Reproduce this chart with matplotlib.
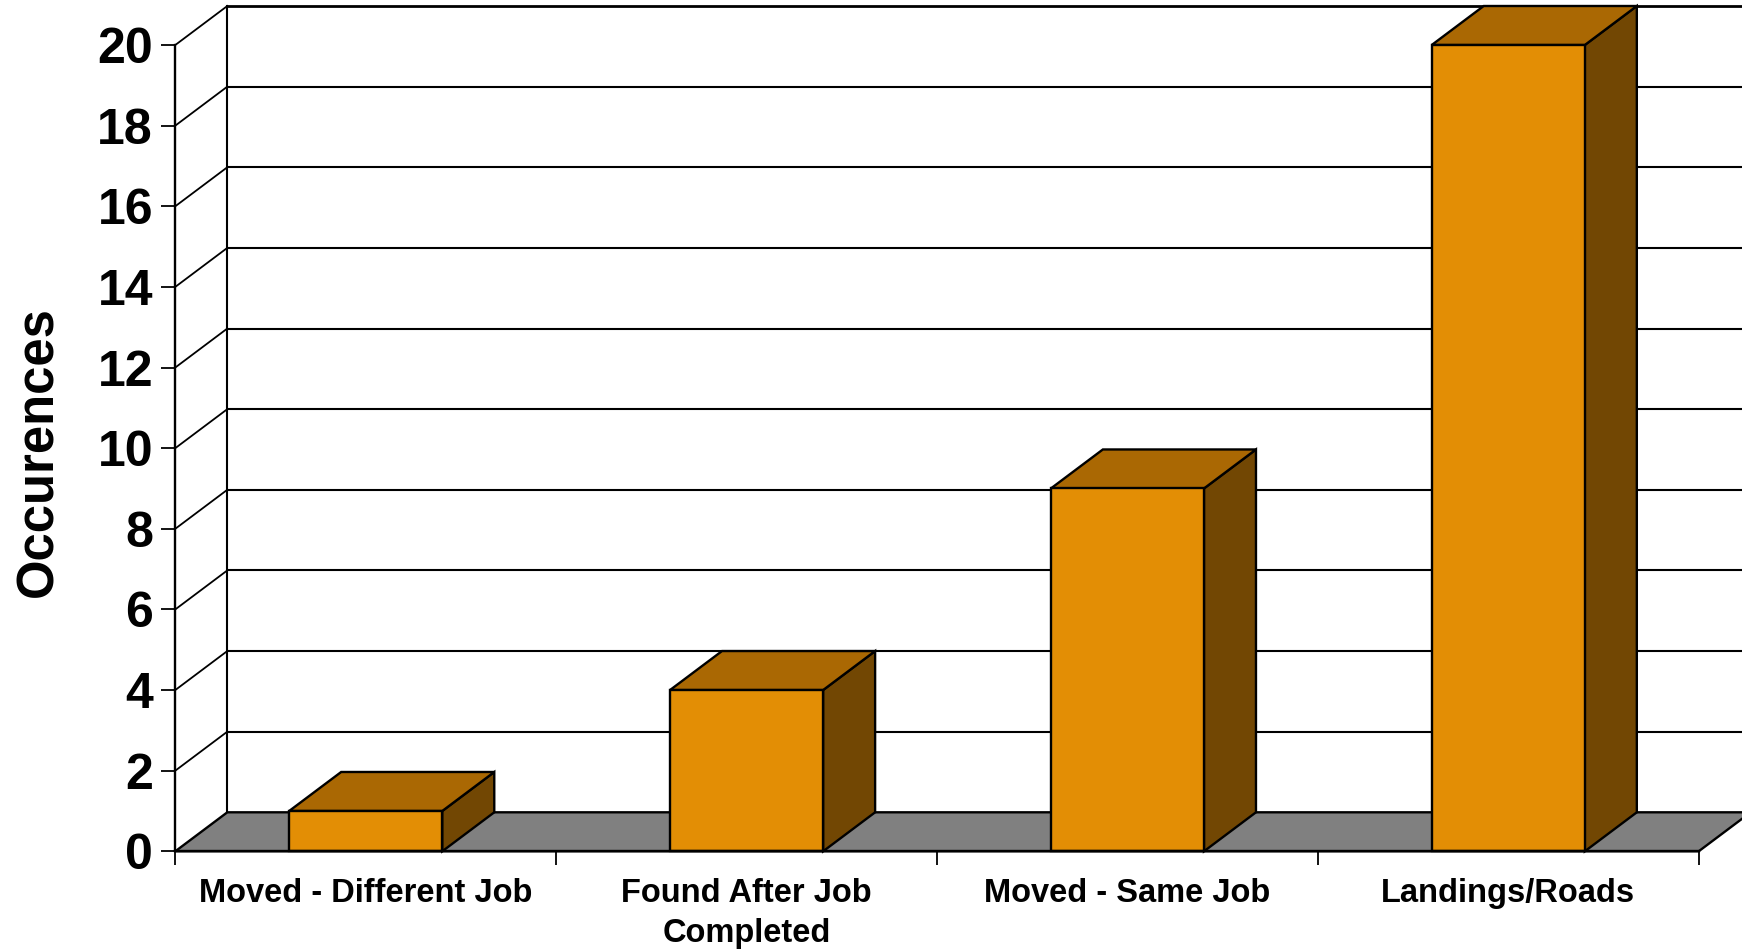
import matplotlib
matplotlib.use("Agg")
import matplotlib.pyplot as plt
from matplotlib.patches import Polygon

categories = ["Moved - Different Job", "Found After Job\nCompleted", "Moved - Same Job", "Landings/Roads"]
values = [1, 4, 9, 20]
y_ticks = list(range(0, 21, 2))
y_label = "Occurences"

FRONT, TOP, SIDE, FLOOR = "#E38E05", "#AA6803", "#724703", "#808080"
W, H = 1742, 950
L, R, T, B = 175.3, 1698.7, 45.0, 851.3
plt.rcParams["font.family"] = ["Liberation Sans", "DejaVu Sans"]
plt.rcParams["font.weight"] = "bold"

fig = plt.figure(figsize=(W / 100, H / 100), dpi=100, facecolor="white")
ax = fig.add_axes([L / W, 1 - B / H, (R - L) / W, (B - T) / H])
ax.set_xlim(0, len(categories))
ax.set_ylim(0, y_ticks[-1])
ax.patch.set_visible(False)

n = len(categories)
dx = 52 / ((R - L) / n)
dy = 39 / ((B - T) / y_ticks[-1])
bw = 0.402
lw = 1.7
ymax = y_ticks[-1]


def poly(pts, fc, z):
    ax.add_patch(Polygon(pts, closed=True, facecolor=fc, edgecolor="black", lw=lw,
                         joinstyle="miter", clip_on=False, zorder=z))


# floor
poly([(0, 0), (n, 0), (n + dx, dy), (dx, dy)], FLOOR, 1)
# back wall grid and side wall diagonals
for v in y_ticks:
    if v > 0:
        ax.plot([dx, n + dx], [v + dy, v + dy], color="black", lw=1.5 if v < ymax else 2.0,
                clip_on=False, zorder=2, solid_capstyle="butt")
        ax.plot([0, dx], [v, v + dy], color="black", lw=1.3, clip_on=False, zorder=2)
ax.plot([dx, dx], [dy, ymax + dy], color="black", lw=1.5, clip_on=False, zorder=2)

# bars
for i, v in enumerate(values):
    x0 = i + 0.5 - bw / 2
    x1 = x0 + bw
    poly([(x1, 0), (x1 + dx, dy), (x1 + dx, v + dy), (x1, v)], SIDE, 3)
    poly([(x0, v), (x1, v), (x1 + dx, v + dy), (x0 + dx, v + dy)], TOP, 3)
ax.bar([i + 0.5 for i in range(n)], values, width=bw, color=FRONT, edgecolor="black",
       linewidth=lw, zorder=4, clip_on=False)

for s in ("top", "right"):
    ax.spines[s].set_visible(False)
for s in ("left", "bottom"):
    ax.spines[s].set_linewidth(lw)
    ax.spines[s].set_zorder(5)

ax.set_yticks(y_ticks)
ax.set_yticklabels([str(v) for v in y_ticks], fontsize=36, fontweight="bold")
ax.tick_params(axis="y", length=10, width=1.3, pad=6)
ax.set_xticks(range(n + 1))
ax.set_xticklabels([""] * (n + 1))
ax.tick_params(axis="x", which="major", length=10, width=1.3)
ax.set_xticks([i + 0.5 for i in range(n)], minor=True)
ax.set_xticklabels(categories, minor=True, fontsize=23.5, fontweight="bold", linespacing=1.38)
ax.tick_params(axis="x", which="minor", length=0, pad=19)

fig.text(38.5 / W, 1 - 452 / H, y_label, rotation=90, ha="center", va="center",
         fontsize=36.5, fontweight="bold")

fig.savefig("out.png", dpi=100)
